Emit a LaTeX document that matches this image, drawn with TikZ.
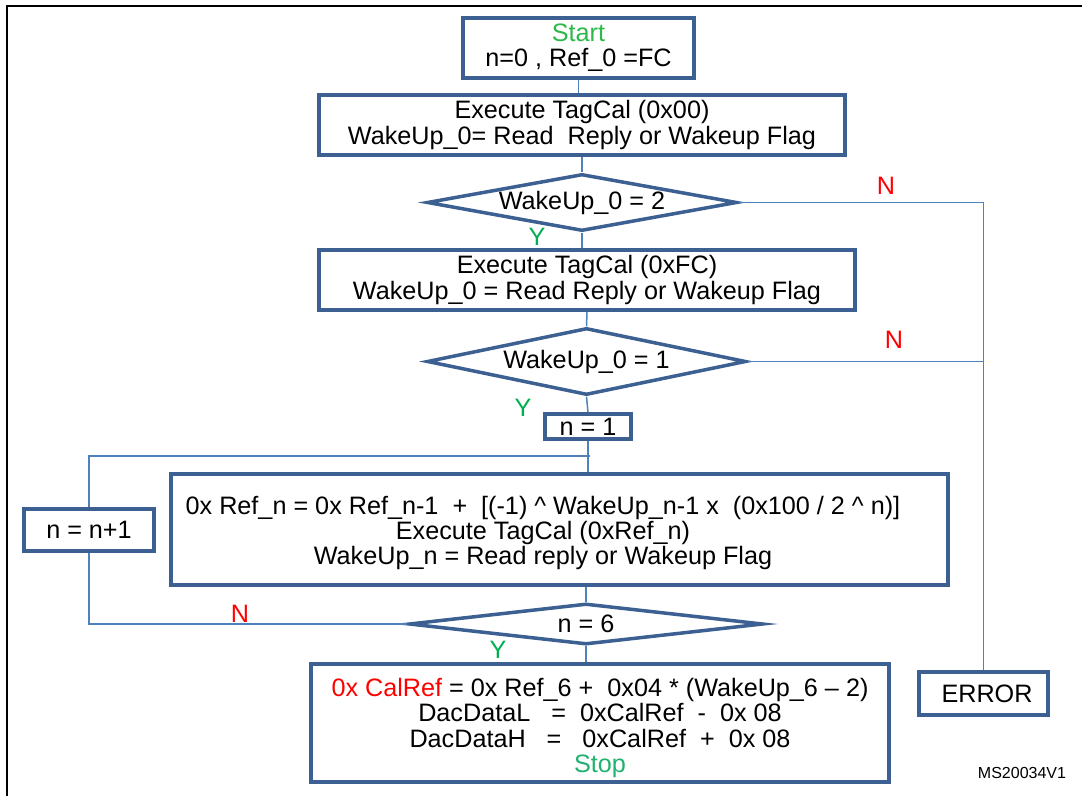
\documentclass[tikz,border=0pt]{standalone}
\usepackage{fontspec}
\setmainfont{Liberation Sans}
\usepackage{tikz}
\usetikzlibrary{shapes.geometric}

\definecolor{boxblue}{RGB}{59,96,145}
\definecolor{lineblue}{RGB}{79,129,189}
\definecolor{ygreen}{RGB}{0,176,80}
\definecolor{startgreen}{RGB}{46,184,74}
\definecolor{stopgreen}{RGB}{34,177,110}
\definecolor{nred}{RGB}{255,0,0}

\begin{document}
\begin{tikzpicture}[x=1pt, y=-1pt, font=\fontsize{25.2}{25.4}\selectfont]
    \tikzstyle{procbox} = [rectangle, draw=boxblue, line width=3.5pt, fill=white, inner sep=0pt, align=center]
    \tikzstyle{decision} = [diamond, draw=boxblue, line width=3.5pt, fill=white, inner sep=0pt]
    \tikzstyle{flowline} = [draw=lineblue, line width=1.5pt]
    \tikzstyle{yeslbl} = [text=ygreen, inner sep=0pt]
    \tikzstyle{nolbl} = [text=nred, inner sep=0pt]

    \useasboundingbox (0,0) rectangle (1082,796);

    % Frame
    \draw[black, line width=2.8pt] (7,796) -- (7,6) -- (1082,6);

    % Boxes
    \node[procbox, minimum width=231pt, minimum height=60pt] (start) at (578.5,48) {\textcolor{startgreen}{Start}\\n=0 , Ref\_0 =FC};
    \node[procbox, minimum width=526pt, minimum height=60pt] (exec0) at (582,125) {Execute TagCal (0x00)\\WakeUp\_0= Read~ Reply or Wakeup Flag};
    \node[procbox, minimum width=536pt, minimum height=60pt] (execfc) at (587,280) {Execute TagCal (0xFC)\\WakeUp\_0 = Read Reply or Wakeup Flag};
    \node[procbox, minimum width=86pt, minimum height=25pt] (nset) at (588,426.5) {n = 1};
    \node[procbox, minimum width=130pt, minimum height=42pt] (ninc) at (89,530) {n = n+1};
    \node[procbox, minimum width=777pt, minimum height=111pt] (calc) at (559.5,529.5) {};
    \node[align=center, inner sep=0pt] (calctxt) at (543,533) {0x Ref\_n = 0x Ref\_n-1 ~+~ [(-1) \textasciicircum\ WakeUp\_n-1 x ~(0x100 / 2 \textasciicircum\ n)]\\Execute TagCal (0xRef\_n)\\WakeUp\_n = Read reply or Wakeup Flag};
    \node[procbox, minimum width=578pt, minimum height=118pt] (result) at (600,723) {};
    \node[align=center, inner sep=0pt] (resulttxt) at (600,728) {\textcolor{nred}{0x CalRef} = 0x Ref\_6 + ~0x04 * (WakeUp\_6 \textendash\ 2)\\DacDataL ~ = ~0xCalRef ~-~ 0x 08\\DacDataH ~ = ~ 0xCalRef ~+~ 0x 08\\\textcolor{stopgreen}{Stop}};
    \node[procbox, minimum width=129pt, minimum height=43pt] (error) at (983.5,693.5) {~ERROR};

    % Decisions
    \node[decision, aspect=5.4, minimum width=310pt, minimum height=57pt] (wake2) at (582,202.5) {WakeUp\_0 = 2};
    \node[decision, aspect=4.7, minimum width=319pt, minimum height=67pt] (wake1) at (586.5,361.5) {WakeUp\_0 = 1};
    \node[decision, aspect=8.6, minimum width=354pt, minimum height=41pt] (last) at (586,624) {n = 6};

    % Connectors
    \draw[flowline] (start.south) -- (start.south |- exec0.north);
    \draw[flowline] (exec0.south) -- (wake2.north);
    \draw[flowline] (wake2.south) -- (wake2.south |- execfc.north);
    \draw[flowline] (execfc.south) -- (wake1.north);
    \draw[flowline] (wake1.south) -- (nset.north);
    \coordinate (loopjoin) at (590,456);
    \draw[flowline] (nset.south) -- (nset.south |- calc.north);
    \draw[flowline] (loopjoin) -| (ninc.north);
    \draw[flowline] (ninc.south) |- (last.west);
    \draw[flowline] (last.north |- calc.south) -- (last.north);
    \draw[flowline] (last.south) -- (last.south |- result.north);
    \draw[flowline] (wake2.east) -| (error.north);
    \draw[flowline] (wake1.east) -- (wake1.east -| error.north);

    % Y / N
    \node[nolbl] (nfail0) at (886,186) {N};
    \node[nolbl] (nfail1) at (894,340) {N};
    \node[nolbl] (nloop) at (240,614) {N};
    \node[yeslbl] (yok0) at (537,237) {Y};
    \node[yeslbl] (yok1) at (523,408) {Y};
    \node[yeslbl] (ydone) at (498,650) {Y};

    \node[font=\fontsize{16}{18}\selectfont] (msid) at (1022,773) {MS20034V1};
\end{tikzpicture}
\end{document}
